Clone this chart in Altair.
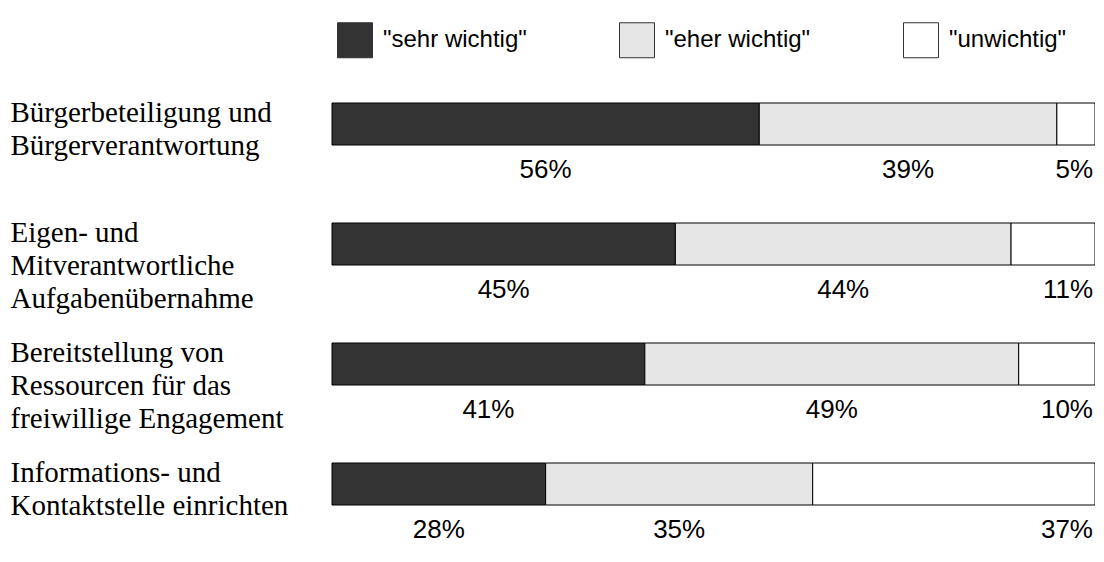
import altair as alt
import pandas as pd

categories = [
    "Bürgerbeteiligung und\nBürgerverantwortung",
    "Eigen- und\nMitverantwortliche\nAufgabenübernahme",
    "Bereitstellung von\nRessourcen für das\nfreiwillige Engagement",
    "Informations- und\nKontaktstelle einrichten",
]
answers = ['"sehr wichtig"', '"eher wichtig"', '"unwichtig"']
sehr_wichtig = [56, 45, 41, 28]
eher_wichtig = [39, 44, 49, 35]
unwichtig = [5, 11, 10, 37]
colors = ["#333333", "#e6e6e6", "#ffffff"]

rows = []
for i, cat in enumerate(categories):
    start = 0
    vals = [sehr_wichtig[i], eher_wichtig[i], unwichtig[i]]
    for j, (ans, v) in enumerate(zip(answers, vals)):
        rows.append(dict(cat=cat, answer=ans, order=j, value=v, start=start,
                         end=start + v, mid=start + v / 2, label=f"{v}%"))
        start += v
df = pd.DataFrame(rows)

y_enc = alt.Y(
    "cat:N", sort=categories,
    scale=alt.Scale(paddingInner=0.65, paddingOuter=0.4),
    axis=alt.Axis(
        title=None, domain=False, ticks=False, tickSize=0, grid=False,
        labelAlign="left", labelBaseline="middle", labelPadding=322,
        labelFont="Liberation Serif", labelFontSize=29, labelLineHeight=33,
        labelColor="black", labelLimit=400, labelOffset=-11,
        labelExpr="split(datum.label, '\\n')",
    ),
)
x_scale = alt.Scale(domain=[0, 100], nice=False, zero=True)

base = alt.Chart(df)

bars = base.mark_bar(stroke="black", strokeWidth=1).encode(
    x=alt.X("start:Q", scale=x_scale, axis=None),
    x2="end:Q",
    y=y_enc,
    color=alt.Color(
        "answer:N", sort=answers,
        scale=alt.Scale(domain=answers, range=colors),
        legend=alt.Legend(
            orient="none", legendX=5, legendY=-33, direction="horizontal",
            title=None, symbolType="square", symbolSize=1225,
            symbolStrokeColor="#333333", symbolStrokeWidth=1, symbolOpacity=1,
            labelFont="Liberation Sans", labelFontSize=24, labelColor="black",
            labelOffset=10, columnPadding=90, padding=0, labelLimit=300,
        ),
    ),
    order=alt.Order("order:Q"),
)

text_mid = base.transform_filter("datum.order < 2").mark_text(
    font="Liberation Sans", fontSize=26, color="black", align="center",
    baseline="middle", dy=46,
).encode(
    x=alt.X("mid:Q", scale=x_scale, axis=None),
    y=alt.Y("cat:N", sort=categories),
    text="label:N",
)

text_end = base.transform_filter("datum.order == 2").mark_text(
    font="Liberation Sans", fontSize=26, color="black", align="right",
    baseline="middle", dy=46, dx=-2,
).encode(
    x=alt.X("end:Q", scale=x_scale, axis=None),
    y=alt.Y("cat:N", sort=categories),
    text="label:N",
)

chart = alt.layer(bars, text_mid, text_end).properties(
    width=763, height=498,
    background="white",
    autosize=alt.AutoSizeParams(type="none"),
    padding={"left": 324, "top": 47, "right": 0, "bottom": 0},
).configure_view(stroke=None)

chart.save("out.html", embed_options={"renderer": "svg", "actions": False})
